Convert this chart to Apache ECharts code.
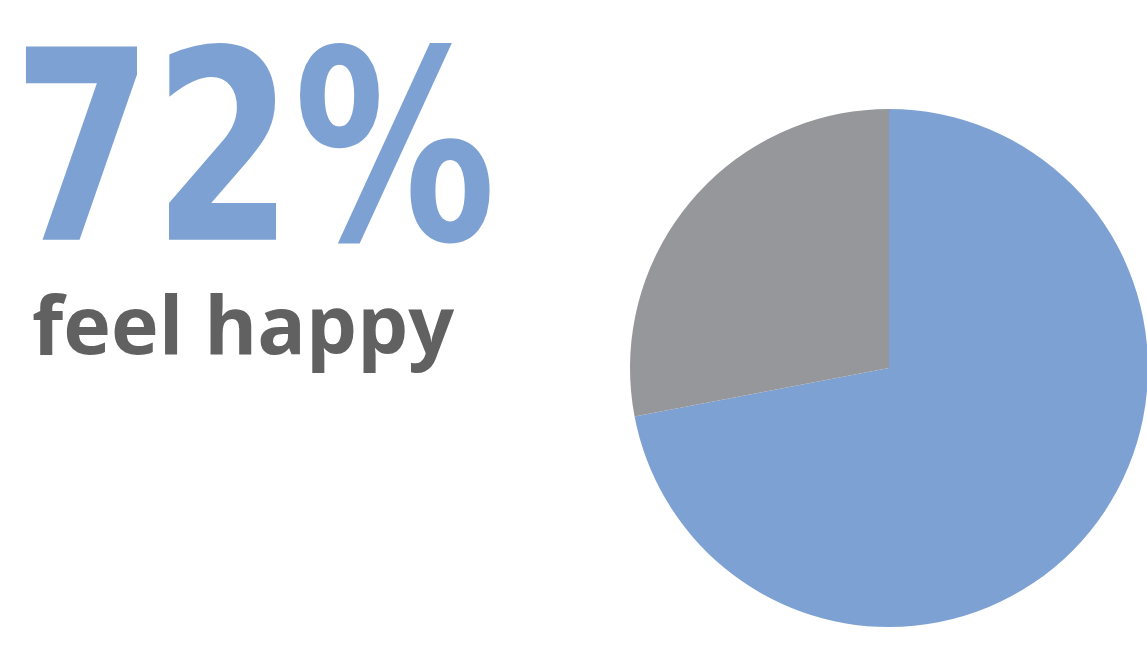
<!DOCTYPE html>
<html>
<head>
<meta charset="utf-8">
<script src="https://cdn.jsdelivr.net/npm/echarts@6/dist/echarts.min.js"></script>
<style>
html,body{margin:0;padding:0;background:#ffffff;}
#chart{width:1147px;height:645px;}
</style>
</head>
<body>
<div id="chart"></div>
<script>
// ---- data ----
const categories = ['Feel happy', 'Do not feel happy'];
const values = [72, 28];
const headlineLabel = 'feel happy';

// ---- styles ----
const BLUE = '#7ea1d3';
const GREY_SLICE = '#96979b';
const GREY_TEXT = '#616161';

const measureCanvas = document.createElement('canvas').getContext('2d');
// fit text so that the glyphs of vRef span box.top..box.bottom and the whole text spans box.left..box.right
function fitText(text, vRef, weight, family, box) {
  measureCanvas.textBaseline = 'middle';
  measureCanvas.font = weight + ' 100px ' + family;
  let m = measureCanvas.measureText(vRef);
  const h = m.actualBoundingBoxAscent + m.actualBoundingBoxDescent;
  const fs = 100 * (box.bottom - box.top) / h;
  measureCanvas.font = weight + ' ' + fs + 'px ' + family;
  const mv = measureCanvas.measureText(vRef);
  m = measureCanvas.measureText(text);
  const L = m.actualBoundingBoxLeft, R = m.actualBoundingBoxRight;
  const s = (box.right - box.left) / (L + R);
  return {fontSize: fs, scaleX: s, x: box.left + L * s, y: box.top + mv.actualBoundingBoxAscent};
}

const pct = Math.round(values[0] / values.reduce((a, b) => a + b, 0) * 100) + '%';
const bigFamily = '"Liberation Sans Narrow", "DejaVu Sans Condensed", Roboto, sans-serif';
const smallFamily = '"Open Sans", "Noto Sans", sans-serif';
const big = fitText(pct, '72', 'bold', bigFamily, {left: 23, top: 41, right: 490, bottom: 237});
const small = fitText(headlineLabel, headlineLabel, 'bold', smallFamily, {left: 33, top: 293, right: 455, bottom: 375});

const chart = echarts.init(document.getElementById('chart'), null, {renderer: 'canvas'});
chart.setOption({
  backgroundColor: '#ffffff',
  animation: false,
  graphic: [
    {
      type: 'text', x: big.x, y: big.y, scaleX: big.scaleX, scaleY: 1,
      style: {text: pct, x: 0, y: 0, fill: BLUE, font: 'bold ' + big.fontSize + 'px ' + bigFamily,
        align: 'left', verticalAlign: 'middle', lineHeight: big.fontSize}
    },
    {
      type: 'text', x: small.x, y: small.y, scaleX: small.scaleX, scaleY: 1,
      style: {text: headlineLabel, x: 0, y: 0, fill: GREY_TEXT, font: 'bold ' + small.fontSize + 'px ' + smallFamily,
        align: 'left', verticalAlign: 'middle', lineHeight: small.fontSize}
    }
  ],
  series: [{
    type: 'pie',
    center: [889, 368],
    radius: 259,
    startAngle: 90,
    clockwise: true,
    label: {show: false},
    labelLine: {show: false},
    emphasis: {disabled: true},
    itemStyle: {borderWidth: 0},
    data: categories.map((c, i) => ({name: c, value: values[i], itemStyle: {color: i === 0 ? BLUE : GREY_SLICE}}))
  }]
});
</script>
</body>
</html>
